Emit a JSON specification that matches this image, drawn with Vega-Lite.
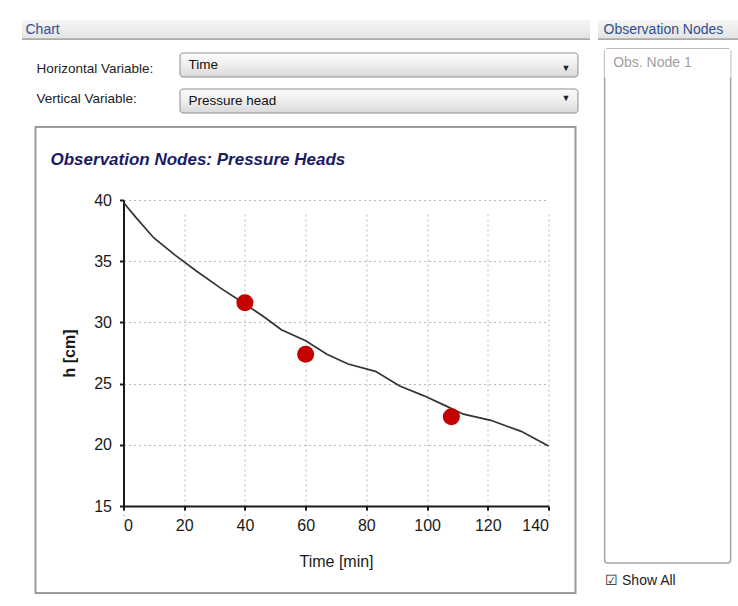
{
  "$schema": "https://vega.github.io/schema/vega-lite/v6.json",
  "background": "#ffffff",
  "padding": {"left": 22, "top": 20, "right": 0, "bottom": 0},
  "config": {"font": "Liberation Sans", "view": {"stroke": null}},
  "datasets": {
    "simulated": [
      {"time": 0, "h": 39.8}, {"time": 4, "h": 38.6}, {"time": 10, "h": 36.9},
      {"time": 17, "h": 35.5}, {"time": 24, "h": 34.2}, {"time": 32, "h": 32.8},
      {"time": 40, "h": 31.5}, {"time": 46, "h": 30.5}, {"time": 52, "h": 29.4},
      {"time": 60, "h": 28.5}, {"time": 67, "h": 27.4}, {"time": 74, "h": 26.6},
      {"time": 83, "h": 26.0}, {"time": 91, "h": 24.8}, {"time": 99, "h": 24.0},
      {"time": 106, "h": 23.2}, {"time": 112, "h": 22.5}, {"time": 121, "h": 22.0},
      {"time": 131, "h": 21.1}, {"time": 140, "h": 19.9}
    ],
    "observed": [
      {"time": 40, "h": 31.6}, {"time": 60, "h": 27.4}, {"time": 108, "h": 22.3}
    ]
  },
  "spacing": 8,
  "hconcat": [
    {
      "spacing": 12,
      "center": true,
      "vconcat": [
        {
          "width": 568, "height": 20,
          "data": {"values": [{"panel": "Chart"}]},
          "mark": {"type": "rect", "fill": {"gradient": "linear", "x1": 0, "y1": 0, "x2": 0, "y2": 1,
            "stops": [{"offset": 0, "color": "#f5f5f5"}, {"offset": 0.9, "color": "#e4e4e4"}, {"offset": 0.93, "color": "#b0b0b0"}, {"offset": 1, "color": "#a8a8a8"}]}},
          "encoding": {
            "y": {"field": "panel", "type": "nominal", "scale": {"paddingInner": 0, "paddingOuter": 0},
              "axis": {"orient": "left", "title": null, "domain": false, "ticks": false, "tickSize": 0,
                "labelAlign": "left", "labelPadding": -3, "labelColor": "#2f4f8f", "labelFontSize": 14}}
          }
        },
        {
          "width": 568, "height": 60,
          "data": {"values": [
            {"variable": "Horizontal Variable:", "choice": "Time"},
            {"variable": "Vertical Variable:", "choice": "Pressure head"}
          ]},
          "layer": [
            {
              "mark": {"type": "rect", "cornerRadius": 3, "stroke": "#8f8f8f", "strokeWidth": 1,
                "fill": {"gradient": "linear", "x1": 0, "y1": 0, "x2": 0, "y2": 1,
                  "stops": [{"offset": 0, "color": "#fbfbfb"}, {"offset": 0.5, "color": "#eeeeee"}, {"offset": 1, "color": "#d9d9d9"}]}},
              "encoding": {
                "x": {"datum": "combobox", "type": "nominal",
                  "scale": {"range": [158, 556], "paddingInner": 0, "paddingOuter": 0}, "axis": null},
                "y": {"field": "choice", "type": "nominal", "sort": null,
                  "scale": {"paddingInner": 0.3333, "paddingOuter": 0},
                  "axis": {"orient": "left", "title": null, "domain": false, "ticks": false, "tickSize": 0,
                    "labelAlign": "left", "labelPadding": -166, "labelFontSize": 13.5, "labelColor": "#111111"}}
              }
            },
            {
              "mark": {"type": "text", "text": "▼", "fontSize": 9, "color": "#222222", "dx": 187},
              "encoding": {
                "x": {"datum": "combobox", "type": "nominal"},
                "y": {"field": "variable", "type": "nominal", "sort": null,
                  "scale": {"paddingInner": 0.3333, "paddingOuter": 0},
                  "axis": {"orient": "left", "title": null, "domain": false, "ticks": false, "tickSize": 0,
                    "labelAlign": "left", "labelPadding": -14, "labelFontSize": 13.5, "labelColor": "#222222"}}
              }
            }
          ],
          "resolve": {"scale": {"y": "independent"}, "axis": {"y": "independent"}}
        },
        {
          "width": 540, "height": 466,
          "view": {"stroke": "#9b9b9b", "strokeWidth": 2},
          "title": {"text": "Observation Nodes: Pressure Heads", "anchor": "start", "frame": "group",
            "dx": 15, "offset": -42, "fontSize": 17, "fontStyle": "italic", "fontWeight": "bold",
            "color": "#1b1b63", "font": "Liberation Sans"},
          "layer": [
            {
              "data": {"name": "simulated"},
              "mark": {"type": "line", "color": "#333333", "strokeWidth": 1.7},
              "encoding": {
                "x": {"field": "time", "type": "quantitative",
                  "scale": {"domain": [0, 140], "range": [88, 513], "nice": false},
                  "axis": {"orient": "bottom", "offset": -87, "values": [0, 20, 40, 60, 80, 100, 120, 140],
                    "title": "Time [min]", "grid": true, "gridColor": "#b8b8b8", "gridDash": [2, 3],
                    "domainColor": "#1a1a1a", "domainWidth": 2, "tickColor": "#1a1a1a", "tickSize": 4, "tickWidth": 2,
                    "labelFontSize": 16, "labelColor": "#1a1a1a", "labelPadding": 7,
                    "titleFontSize": 16, "titleFontWeight": "normal", "titleColor": "#1a1a1a", "titlePadding": 20}},
                "y": {"field": "h", "type": "quantitative",
                  "scale": {"domain": [15, 40], "range": [379, 73], "nice": false, "zero": false},
                  "axis": {"orient": "left", "offset": -88, "values": [15, 20, 25, 30, 35, 40],
                    "title": "h [cm]", "grid": true, "gridColor": "#b8b8b8", "gridDash": [2, 3],
                    "domainColor": "#1a1a1a", "domainWidth": 2, "tickColor": "#1a1a1a", "tickSize": 4, "tickWidth": 2,
                    "labelFontSize": 16, "labelColor": "#1a1a1a", "labelPadding": 8,
                    "titleFontSize": 16, "titleFontWeight": "bold", "titleColor": "#1a1a1a", "titlePadding": 16}}
              }
            },
            {
              "data": {"name": "observed"},
              "mark": {"type": "point", "filled": true, "size": 290, "color": "#c40000", "opacity": 1},
              "encoding": {
                "x": {"field": "time", "type": "quantitative"},
                "y": {"field": "h", "type": "quantitative"}
              }
            }
          ]
        }
      ]
    },
    {
      "spacing": 8,
      "center": true,
      "vconcat": [
        {
          "width": 140, "height": 20,
          "data": {"values": [{"panel": "Observation Nodes"}]},
          "mark": {"type": "rect", "fill": {"gradient": "linear", "x1": 0, "y1": 0, "x2": 0, "y2": 1,
            "stops": [{"offset": 0, "color": "#f5f5f5"}, {"offset": 0.9, "color": "#e4e4e4"}, {"offset": 0.93, "color": "#b0b0b0"}, {"offset": 1, "color": "#a8a8a8"}]}},
          "encoding": {
            "y": {"field": "panel", "type": "nominal", "scale": {"paddingInner": 0, "paddingOuter": 0},
              "axis": {"orient": "left", "title": null, "domain": false, "ticks": false, "tickSize": 0,
                "labelAlign": "left", "labelPadding": -5, "labelColor": "#2f4f8f", "labelFontSize": 14}}
          }
        },
        {
          "width": 126, "height": 514,
          "view": {"stroke": "#a6a6a6", "strokeWidth": 1.5, "cornerRadius": 3},
          "data": {"values": [{"node": "Obs. Node 1"}]},
          "mark": {"type": "rect", "fill": "#ffffff"},
          "encoding": {
            "y": {"field": "node", "type": "nominal", "scale": {"range": [0, 28]},
              "axis": {"orient": "left", "title": null, "domain": false, "ticks": false, "tickSize": 0,
                "labelAlign": "left", "labelPadding": -8, "labelColor": "#a0a0a0", "labelFontSize": 14}},
            "x": {"field": "node", "type": "nominal",
              "axis": {"title": "☑ Show All", "labels": false, "ticks": false, "domain": false,
                "titleAnchor": "start", "titleFontSize": 14, "titleFontWeight": "normal",
                "titleColor": "#222222", "titlePadding": 10}}
          }
        }
      ]
    }
  ]
}
